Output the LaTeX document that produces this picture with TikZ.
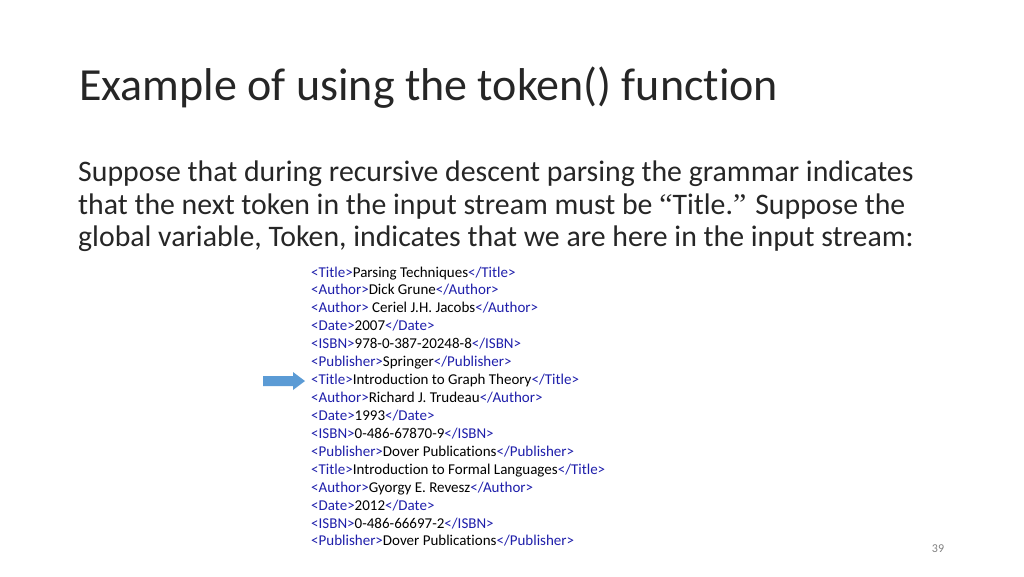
\documentclass[tikz,border=0pt]{standalone}
\usepackage{fontspec}
\setmainfont{Carlito}[Ligatures={NoCommon}]
\definecolor{tagc}{RGB}{30,30,170}
\definecolor{arrc}{RGB}{91,155,213}
\definecolor{txt}{RGB}{38,38,38}
\begin{document}
\begin{tikzpicture}[x=1pt,y=-1pt,
  codeline/.style={anchor=base west,inner sep=0pt,font=\fontsize{15}{17}\selectfont,text=black},
  bodyline/.style={anchor=base west,inner sep=0pt,font=\fontsize{29.8}{33}\selectfont,text=txt}]
\useasboundingbox (0,0) rectangle (1024,576);
\node[anchor=base west,inner sep=0pt,font=\fontsize{46}{50}\selectfont,text=txt] (title) at (79,100) {Example of using the token() function};
\node[bodyline] (b1) at (78,181) {Suppose that during recursive descent parsing the grammar indicates};
\node[bodyline] (b2) at (78,214) {that the next token in the input stream must be {\fontspec{Liberation Serif}“}Title.{\fontspec{Liberation Serif}”} Suppose the};
\node[bodyline] (b3) at (78,246) {global variable, Token, indicates that we are here in the input stream:};
\newcommand{\tg}[1]{\textcolor{tagc}{#1}}
\foreach \i/\t in {
0/{\tg{<Title>}Parsing Techniques\tg{</Title>}},
1/{\tg{<Author>}Dick Grune\tg{</Author>}},
2/{\tg{<Author>} Ceriel J.H. Jacobs\tg{</Author>}},
3/{\tg{<Date>}2007\tg{</Date>}},
4/{\tg{<ISBN>}978-0-387-20248-8\tg{</ISBN>}},
5/{\tg{<Publisher>}Springer\tg{</Publisher>}},
6/{\tg{<Title>}Introduction to Graph Theory\tg{</Title>}},
7/{\tg{<Author>}Richard J. Trudeau\tg{</Author>}},
8/{\tg{<Date>}1993\tg{</Date>}},
9/{\tg{<ISBN>}0-486-67870-9\tg{</ISBN>}},
10/{\tg{<Publisher>}Dover Publications\tg{</Publisher>}},
11/{\tg{<Title>}Introduction to Formal Languages\tg{</Title>}},
12/{\tg{<Author>}Gyorgy E. Revesz\tg{</Author>}},
13/{\tg{<Date>}2012\tg{</Date>}},
14/{\tg{<ISBN>}0-486-66697-2\tg{</ISBN>}},
15/{\tg{<Publisher>}Dover Publications\tg{</Publisher>}}}
{\node[codeline] (c\i) at (311,{277+17.93*\i}) {\t};}
\coordinate (arrtip) at (305,381);
\fill[arrc] (263,376) -- (293,376) -- (293,372) -- (arrtip) -- (293,390) -- (293,386) -- (263,386) -- cycle;
\node[anchor=center,inner sep=0pt,font=\fontsize{12}{14}\selectfont,text=gray] (pg) at (938,549) {39};
\end{tikzpicture}
\end{document}
